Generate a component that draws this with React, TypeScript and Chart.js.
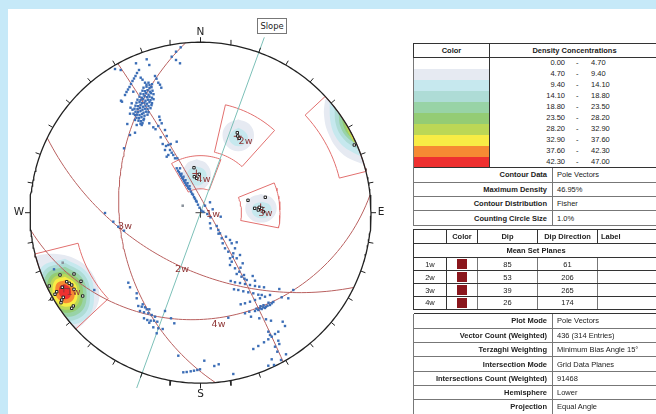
import React, { useEffect, useRef } from "react";
import { Chart, registerables } from "chart.js";

// Net units: 1 unit = 1/170.5 of the primitive circle radius; x = east, y = north.
const NET_R = 170.5;
const setNames = ["1w", "2w", "3w", "4w"];
const setDips = [85, 53, 39, 26];
const setDipDirs = [61, 206, 265, 174];
const slopeTrend = 20;
const tickAzimuths = [0, 10, 20, 30, 40, 50, 60, 70, 80, 90, 100, 110, 120, 130, 140, 150, 160, 170, 180, 190, 200, 210, 220, 230, 240, 250, 260, 270, 280, 290, 300, 310, 320, 330, 340, 350];

// [trend start, trend end, plunge min, plunge max]
const windows = [
  [227, 256, 0, 17],
  [47, 76, 0, 10],
  [13, 42, 24, 50],
  [68, 101, 40, 63],
  [329.5, 381, 53, 74],
];

const densityLow = ["0.00", "4.70", "9.40", "14.10", "18.80", "23.50", "28.20", "32.90", "37.60", "42.30"];
const densityHigh = ["4.70", "9.40", "14.10", "18.80", "23.50", "28.20", "32.90", "37.60", "42.30", "47.00"];
const densityColors = ["#ffffff", "#e6eaf2", "#c6e8ee", "#aedcd6", "#98d3a6", "#94cc74", "#bcd756", "#f8ec45", "#f68a33", "#ee3030"];
const contourRows = [["Contour Data", "Pole Vectors"], ["Maximum Density", "46.95%"], ["Contour Distribution", "Fisher"], ["Counting Circle Size", "1.0%"]];
const infoRows = [["Plot Mode", "Pole Vectors"], ["Vector Count (Weighted)", "436 (314 Entries)"], ["Terzaghi Weighting", "Minimum Bias Angle 15°"], ["Intersection Mode", "Grid Data Planes"], ["Intersections Count (Weighted)", "91468"], ["Hemisphere", "Lower"], ["Projection", "Equal Angle"]];

type P = number[];
const contourLeft: [number, P[]][] = [
  [1, [[-175, -55], [-164.8, -44], [-155.5, -41.6], [-143.8, -41.3], [-128.8, -44.6], [-113.8, -54], [-105.5, -65.6], [-101.2, -80.6], [-103.8, -94], [-112.2, -105.6], [-124.5, -116.6], [-150, -125], [-180, -90], [-175, -55]]],
  [2, [[-135.5, -46], [-113.8, -59.2], [-106.5, -79], [-112.3, -103.8], [-135.5, -112], [-157, -99], [-164.5, -79], [-158.7, -54.3], [-135.5, -46]]],
  [3, [[-135.5, -50], [-116.8, -61.6], [-110.5, -79], [-115.5, -100.8], [-135.5, -108], [-154, -96.4], [-160.5, -79], [-155.5, -57.2], [-135.5, -50]]],
  [4, [[-135.5, -54], [-119.4, -64], [-114, -79], [-118.3, -97.8], [-135.5, -104], [-151.6, -94], [-157, -79], [-152.7, -60.2], [-135.5, -54]]],
  [5, [[-135.5, -58], [-122, -66.4], [-117.5, -79], [-121.1, -94.8], [-135.5, -100], [-149, -91.6], [-153.5, -79], [-149.9, -63.2], [-135.5, -58]]],
  [6, [[-135.5, -61], [-124.3, -68.2], [-120.5, -79], [-123.5, -92.5], [-135.5, -97], [-146.8, -89.8], [-150.5, -79], [-147.5, -65.5], [-135.5, -61]]],
  [7, [[-135.5, -64], [-126, -70], [-123, -79], [-125.5, -90.3], [-135.5, -94], [-145, -88], [-148, -79], [-145.5, -67.8], [-135.5, -64]]],
  [8, [[-135.5, -67.5], [-128.2, -72.1], [-125.8, -79], [-127.7, -87.6], [-135.5, -90.5], [-142.8, -85.9], [-145.2, -79], [-143.3, -70.4], [-135.5, -67.5]]],
  [9, [[-135.5, -71.5], [-131, -74.5], [-129.5, -79], [-130.7, -84.6], [-135.5, -86.5], [-140, -83.5], [-141.5, -79], [-140.3, -73.4], [-135.5, -71.5]]],
];
const contourRight: [number, P[]][] = [
  [1, [[124.5, 113], [123.5, 97.7], [127.8, 79.4], [139.5, 61], [156.2, 51], [170, 49], [190, 70], [170, 120], [140, 125], [124.5, 113]]],
  [2, [[129, 112], [130.5, 88], [137.8, 72], [149.5, 62], [165, 57], [190, 70], [165, 125], [129, 112]]],
  [3, [[134, 108], [135.5, 88], [143, 74], [155, 65], [168, 60], [190, 70], [165, 120], [134, 108]]],
  [4, [[138, 100], [140, 86], [147, 75], [158, 68], [170, 63], [185, 75], [165, 115], [138, 100]]],
  [5, [[141, 96], [144, 84], [150, 76], [160, 70], [170, 66], [180, 80], [160, 110], [141, 96]]],
  [6, [[143, 93], [147, 82], [150, 76], [155, 70], [175, 75], [160, 100], [143, 93]]],
  [7, [[148, 85], [150.5, 79], [153, 74], [170, 78], [160, 95], [148, 85]]],
];
const contour2w: [number, P[]][] = [
  [1, [[37.8, 93.5], [49, 88.5], [53.5, 77.7], [49, 66.5], [37.8, 61.5], [26.5, 66.5], [22, 77.7], [26.5, 88.5], [37.8, 93.5]]],
  [2, [[38, 85], [44.5, 81], [47.5, 75], [44.5, 69], [38, 66.5], [31.5, 69], [28.5, 75], [31.5, 81], [38, 85]]],
];
const contour4w: [number, P[]][] = [
  [1, [[-3.8, 53.4], [6.3, 48.8], [10.5, 37.7], [6.3, 26.6], [-3.8, 22], [-13.9, 26.6], [-18.1, 37.7], [-13.9, 48.8], [-3.8, 53.4]]],
  [2, [[-3.8, 46.2], [3.3, 43.4], [6.2, 36.7], [3.3, 30], [-3.8, 27.2], [-10.9, 30], [-13.8, 36.7], [-10.9, 43.4], [-3.8, 46.2]]],
];
const contour3w: [number, P[]][] = [
  [1, [[60.5, 18.7], [71.6, 14.5], [76.2, 4.4], [71.6, -5.7], [60.5, -9.9], [49.4, -5.7], [44.8, 4.4], [49.4, 14.5], [60.5, 18.7]]],
  [2, [[61.2, 11], [68.3, 8.6], [71.2, 2.7], [68.3, -3.2], [61.2, -5.6], [54.1, -3.2], [51.2, 2.7], [54.1, 8.6], [61.2, 11]]],
];

const polesNorthDense: P[] = [
  [-57, 125], [-54, 126], [-51, 124.5], [-49, 125.5], [-58, 122], [-55.5, 121.5], [-53, 122.5], [-50.5, 121], [-48, 122], [-60, 119], [-57, 118.5], [-54.5, 119.5], [-52, 118], [-49.5, 119.5], [-47, 118.5],
  [-61, 116], [-58.5, 115], [-56, 116.5], [-53.5, 115.5], [-51, 116], [-48.5, 115], [-63, 113], [-60, 112.5], [-57.5, 113.5], [-55, 112], [-52.5, 113], [-50, 112.5], [-47, 113.5],
  [-64, 110], [-61, 110.5], [-58.5, 109.5], [-56, 110], [-53.5, 109], [-51, 110.5], [-48.5, 109.5], [-65, 107], [-62.5, 106.5], [-60, 107.5], [-57.5, 106], [-55, 107], [-52, 106.5], [-49, 107.5],
  [-66, 104], [-63, 103.5], [-60.5, 104.5], [-58, 103], [-55.5, 104], [-53, 103.5], [-50, 104.5], [-65, 101], [-62.5, 100.5], [-60, 101.5], [-57, 100], [-54.5, 101], [-52, 100.5],
  [-63.5, 98], [-61, 97.5], [-58.5, 98.5], [-56, 97], [-53, 98], [-64, 95], [-61.5, 94.5], [-59, 95.5], [-56.5, 94], [-62, 92], [-59.5, 91.5], [-57, 92.5], [-60, 89], [-58, 89.5],
  [-54, 128], [-52, 130], [-51, 127.5], [-48.5, 128.5], [-70, 105], [-68, 103], [-70.5, 99], [-67, 99],
];
const polesNorthStreak: P[] = [
  [-75.5, 117.7], [-74, 120.7], [-72.5, 123.2], [-71, 125.7], [-69.5, 128.7], [-68, 131.7], [-66.5, 134.2], [-65, 136.7], [-63.5, 139.7], [-61.5, 142.7], [-79.5, 112], [-78.5, 111],
];
const polesNorthScatter: P[] = [
  [-85.5, 143.7], [-79.8, 142.7], [-64.5, 149.4], [-53.8, 153.4], [-51.2, 147.7], [-28.8, 156], [-24.5, 161], [-19.8, 165.4], [-24.5, 152.7], [-20.5, 149.4], [-45.5, 136.7], [-44, 134], [-42.2, 130], [-40.5, 128], [-39.2, 125],
  [-59.8, 135], [-58, 133], [-55.5, 130], [-67.2, 121], [-68.8, 109.4], [-73.2, 88.7], [-65.5, 92.7], [-65.5, 97.7], [-63.8, 87.7], [-58.8, 87.7], [-65.5, 80], [-70.5, 77.7], [-76.5, 64.4], [-51.2, 89.4], [-47.2, 85.4], [-45, 83.5],
  [-41.2, 96], [-40.5, 92.7], [-42.2, 86.7], [-38.8, 89.4], [-35.5, 82.7], [-39.8, 75.4], [-33.8, 76.7], [-37.8, 68.7], [-34.5, 66.7], [-29.8, 68.7], [-23.8, 71], [-30.5, 62.7], [-33.8, 56], [-27.2, 57.7], [-25.5, 54.4], [-23.2, 54.4], [-20.5, 44.4],
  [-32.2, 67.7], [-35.5, 62.7], [-28.8, 60], [-32.2, 57.7],
];
const polesOnLine: P[] = [
  [-23.8, 44.4], [-22.5, 42], [-21.5, 40.5], [-20.5, 38.5], [-19.5, 37], [-18.5, 35], [-17.5, 33.5], [-16.5, 31.5], [-15.5, 30], [-14.5, 28], [-13.5, 27], [-12.5, 25], [-11.5, 24], [-10.5, 23.4], [-19, 39], [-17, 36], [-15, 32.5], [-13, 29.5], [-11, 26.5], [-9.5, 21], [-8.5, 19], [-7.5, 18], [-6.5, 15.5], [-5.5, 14], [-4.5, 12], [-3.8, 11], [-2.5, 8],
  [-1, 5], [1, 2], [2.8, 1],
];
const polesCentral: P[] = [
  [9.5, 10.4], [4.5, 7], [12.2, 3.4], [6.8, -1.3], [10, -4.6], [20.2, -4], [9.5, -10.6], [10.2, -15.6], [16.2, -13.3], [17.8, -17.3], [19.5, -20.6], [18, -21], [21.2, -25.6], [25.5, -24], [29.5, -27.3], [36.2, -29.6], [31.2, -30.6], [22.2, -30.6], [24.5, -35.6], [27.8, -39], [34.5, -35.6], [32.8, -40.6], [29.5, -45.6], [32.2, -44], [39.5, -42.3],
  [-95.5, -0.3], [-87.2, -9], [-82.2, -14], [-76.5, -18], [-146.5, -56.6], [-106.2, -77.3],
];
const polesSouthEast: P[] = [
  [31.2, -49], [29.5, -52.3], [36.2, -45.6], [42.2, -50.6], [34.5, -55.6], [38.8, -59], [43.5, -62.3], [36.2, -61.3], [46.2, -67.3], [52.2, -63.3], [54.5, -68], [30.2, -68.3], [40, -55], [41, -64], [44, -66],
  [34.5, -69.6], [39.5, -70.3], [44.5, -71.3], [49.5, -72.3], [54.5, -73.3], [58.8, -74], [63.5, -74.6], [33.5, -76.6], [37.8, -77.3], [42.8, -78.6], [47.8, -79.6], [52.8, -80.6], [57.8, -82], [61.2, -82.3],
  [40.2, -91.6], [44.5, -90.6], [49.5, -89], [54.5, -87.3], [59.5, -85.6], [64.5, -84], [69.5, -82.3], [54.5, -98.3], [57.8, -97.3], [61.2, -96.3], [64.5, -95.3], [56, -96], [59.5, -95.6], [62.8, -94.6], [65.5, -94], [71.2, -90.6], [72.8, -89.3], [69.5, -92.3], [67, -93], [68, -90], [60, -93.5], [63, -92.5],
  [78.8, -76.3], [81.2, -84.6], [87.8, -85.6], [92.8, -77.3], [44.5, -100.6], [48.8, -99], [50.5, -104], [58.8, -105.6], [27.8, -105], [65.5, -106.6], [70.5, -108], [82.2, -109], [84.5, -113.3],
  [52.8, -136.3], [57.8, -133.3], [63.5, -129.6], [67.8, -126.6], [71.2, -124], [74.5, -121.3], [77.8, -119], [67.8, -119], [69.5, -122.3], [77.8, -128], [78.8, -131.3], [74.5, -134], [76.8, -139], [85.5, -141.6], [71.2, -146.6], [80.5, -147.3], [67.8, -153], [73.5, -152.3],
];
const polesSouth: P[] = [
  [32.8, -161.3], [3.8, -148], [13.8, -153.3], [18.2, -151.6], [-22.2, -143], [-17.2, -159.6], [-13.8, -159.3], [-9.8, -158.6], [-6.5, -158], [-3.2, -157.3], [-0.5, -156.6],
  [-72.2, -70], [-70.5, -74.6], [-63.8, -80.6], [-63.8, -85.6], [-62.2, -93.3], [-58.8, -94], [-55.5, -94.6], [-57.8, -91.6], [-53.8, -96.6], [-51.2, -96.6], [-60.5, -98.3], [-56.5, -99.6], [-52.2, -100.6], [-48.8, -102.3], [-45.5, -104], [-56.5, -105.6], [-53.2, -107.3], [-49.8, -108], [-46.5, -108], [-43.2, -109], [-51.2, -110], [-35.5, -98.3], [-29.5, -105.6], [-26.2, -110.6], [-47.2, -114.6], [-42.2, -115.6], [-37.8, -116.3], [-43.8, -120.6],
];
const greyPoles: P[] = [[-17.8, 7], [-137.8, -50]];
const windowPoles: P[] = [
  [-140.5, -62.3], [-126.5, -61.3], [-119.5, -68.6], [-151.2, -73.3], [-133.8, -69], [-131.2, -70.6], [-128.8, -72.3], [-126.5, -76.6], [-143.8, -79], [-145.5, -81.6], [-138.2, -74.6], [-137.2, -84.6], [-138.8, -87.3], [-139.5, -90], [-117.8, -83.3], [-127.2, -93.3], [-128.8, -95.6], [-148.8, -86.3],
  [153.8, 67.7], [36.8, 80], [37.2, 76.7], [38.8, 74.4], [-6.5, 45], [-6.2, 36], [-1.2, 38.4], [-3.8, 34.4], [47.5, 12.4], [64.8, 15.4], [54.2, 4.4], [58.8, 5.4], [61.2, 4.4], [62.8, 1], [57.8, 2.7],
];

const setLabels: [string, number, number][] = [
  ["1w", -127, -80], ["2w", 45, 70.7], ["3w", 65, -1.3], ["4w", 3, 32.7],
  ["1w", 12.5, -2.3], ["2w", -18.5, -57.3], ["3w", -75.5, -14.3], ["4w", 18, -112.3],
];
const cardinals: [string, number, number][] = [["N", 0, 180], ["E", 180.5, 0], ["S", 0, -182], ["W", -181.5, 0]];

const rad = Math.PI / 180;
const planeCurve = (dip: number, dir: number) => {
  const out: { x: number; y: number }[] = [];
  const s = [Math.sin((dir - 90) * rad), Math.cos((dir - 90) * rad), 0];
  const d = [Math.sin(dir * rad) * Math.cos(dip * rad), Math.cos(dir * rad) * Math.cos(dip * rad), Math.sin(dip * rad)];
  for (let t = 0; t <= 180; t += 2) {
    const c = Math.cos(t * rad), n = Math.sin(t * rad);
    const v = [s[0] * c + d[0] * n, s[1] * c + d[1] * n, s[2] * c + d[2] * n];
    out.push({ x: (NET_R * v[0]) / (1 + v[2]), y: (NET_R * v[1]) / (1 + v[2]) });
  }
  return out;
};
const polar = (trend: number, r: number) => ({ x: r * Math.sin(trend * rad), y: r * Math.cos(trend * rad) });
const plungeR = (p: number) => NET_R * Math.tan(((90 - p) / 2) * rad);
const windowPath = (w: number[]) => {
  const [a, b, pMin, pMax] = w;
  const out: { x: number; y: number }[] = [];
  for (let t = a; t <= b; t += 2) out.push(polar(t, plungeR(pMin)));
  out.push(polar(b, plungeR(pMin)));
  for (let t = b; t >= a; t -= 2) out.push(polar(t, plungeR(pMax)));
  out.push(polar(a, plungeR(pMax)));
  out.push(polar(a, plungeR(pMin)));
  return out;
};
const xy = (a: P[]) => a.map(([x, y]) => ({ x, y }));

const netClip = {
  id: "netClip",
  beforeDatasetDraw(chart: any, args: any) {
    if (!args.meta._dataset.clipNet) return;
    const { x, y } = chart.scales;
    const ctx = chart.ctx;
    ctx.save();
    ctx.beginPath();
    ctx.arc(x.getPixelForValue(0), y.getPixelForValue(0), x.getPixelForValue(NET_R) - x.getPixelForValue(0), 0, Math.PI * 2);
    ctx.clip();
  },
  afterDatasetDraw(chart: any, args: any) {
    if (args.meta._dataset.clipNet) chart.ctx.restore();
  },
};
Chart.register(netClip);
Chart.register(...registerables);

const netText = {
  id: "netText",
  afterDatasetsDraw(chart: any) {
    const { x, y } = chart.scales;
    const ctx = chart.ctx;
    ctx.save();
    ctx.textAlign = "center";
    ctx.textBaseline = "middle";
    ctx.font = '9.5px "DejaVu Sans"';
    ctx.fillStyle = "#8f3636";
    for (const [t, a, b] of setLabels) ctx.fillText(t, x.getPixelForValue(a), y.getPixelForValue(b));
    ctx.font = '10.5px "DejaVu Sans"';
    ctx.fillStyle = "#222";
    for (const [t, a, b] of cardinals) ctx.fillText(t, x.getPixelForValue(a), y.getPixelForValue(b));
    ctx.restore();
  },
};

const cell: React.CSSProperties = { padding: 0, overflow: "hidden", whiteSpace: "nowrap" };
const dark = "1px solid #333";
const soft = "1px solid #777";
const font = '7.5px "Liberation Sans", Arial, sans-serif';
const tableStyle = (top: number, width = 246): React.CSSProperties => ({
  position: "absolute", left: 413, top, width, borderCollapse: "collapse", tableLayout: "fixed", font, color: "#222", background: "#fff",
});

function KeyValue({ rows, rowH }: { rows: string[][]; rowH: number }) {
  return (
    <>
      {rows.map((r) => (
        <tr key={r[0]} style={{ height: rowH }}>
          <td colSpan={2} style={{ ...cell, borderBottom: soft, borderRight: soft, borderLeft: soft, textAlign: "right", paddingRight: 5, fontWeight: 700 }}>{r[0]}</td>
          <td style={{ ...cell, borderBottom: soft, paddingLeft: 4 }}>{r[1]}</td>
        </tr>
      ))}
    </>
  );
}

export default function App() {
  const ref = useRef<HTMLCanvasElement>(null);
  useEffect(() => {
    document.body.style.margin = "0";
    document.body.style.overflow = "hidden";
    const datasets: any[] = [];
    let order = 1;
    const marks = (data: P[], color: string, radius: number, border?: string) =>
      datasets.push({ data: xy(data), showLine: false, pointStyle: "rect", pointRadius: radius, pointBackgroundColor: color, pointBorderColor: border || color, pointBorderWidth: border ? 1 : 0, order: order++ });
    const line = (data: any[], color: string, width: number) =>
      datasets.push({ data, showLine: true, pointRadius: 0, borderColor: color, borderWidth: width, fill: false, spanGaps: false, order: order++ });

    marks(windowPoles, "#ffffff", 1.7, "#222222");
    datasets.push({ data: setDips.map((d, i) => polar(setDipDirs[i] + 180, plungeR(90 - d))), showLine: false, pointStyle: "cross", pointRadius: 4, pointBorderColor: "#8f3636", pointBorderWidth: 1, order: order++ });
    for (const group of [polesNorthDense, polesNorthStreak, polesNorthScatter, polesOnLine, polesCentral, polesSouthEast, polesSouth]) marks(group, "#3b6db6", 1.7);
    marks(greyPoles, "#8b939c", 1.8);
    line([{ x: -5, y: 0 }, { x: 5, y: 0 }, { x: NaN, y: NaN }, { x: 0, y: -5 }, { x: 0, y: 5 }], "#444", 1);
    const slopeEnd = polar(slopeTrend, 186.6), slopeOpp = polar(slopeTrend + 180, 186.6);
    const netPts = [];
    for (let a = 0; a <= 360; a += 1) netPts.push(polar(a, NET_R));
    line(netPts, "#222", 1.3);
    const ticks: any[] = [];
    for (const a of tickAzimuths) ticks.push(polar(a, NET_R), polar(a, NET_R + 5), { x: NaN, y: NaN });
    line(ticks, "#222", 1);
    setDips.forEach((d, i) => line(planeCurve(d, setDipDirs[i]), "#b9605f", 1));
    line([slopeEnd, slopeOpp], "#7cc0b8", 1);
    windows.forEach((w) => line(windowPath(w), "#e2706f", 1));
    const contours = [...contour2w, ...contour3w, ...contour4w, ...contourRight, ...contourLeft];
    const sorted = contours.slice().sort((a, b) => b[0] - a[0]);
    for (const [level, poly] of sorted) {
      datasets.push({ data: xy(poly), showLine: true, pointRadius: 0, borderWidth: 0, borderColor: "transparent", backgroundColor: densityColors[level], fill: "shape", tension: 0.4, clipNet: true, order: order++ });
    }

    const chart = new Chart(ref.current!, {
      type: "scatter",
      data: { datasets },
      plugins: [netText],
      options: {
        animation: false,
        responsive: false,
        events: [],
        layout: { padding: 0, autoPadding: false },
        plugins: { legend: { display: false }, tooltip: { enabled: false } },
        scales: {
          x: { type: "linear", display: false, min: -200.5, max: 455.5 },
          y: { type: "linear", display: false, min: -201.3, max: 212.7 },
        },
      },
    } as any);
    return () => chart.destroy();
  }, []);

  return (
    <div style={{ position: "relative", width: 656, height: 414, overflow: "hidden", background: "#c6e9f8", filter: "blur(0.4px)" }}>
      <div style={{ position: "absolute", left: 8, top: 9, width: 648, height: 405, background: "#fff" }} />
      <canvas ref={ref} width={656} height={414} style={{ position: "absolute", left: 0, top: 0, width: 656, height: 414 }} />
      <div style={{ position: "absolute", left: 257, top: 18, width: 28, height: 14, border: "1px solid #777", background: "#fff", font: '8.4px "DejaVu Sans"', color: "#222", textAlign: "center", lineHeight: "14px" }}>Slope</div>

      <table style={tableStyle(43)}>
        <colgroup><col style={{ width: 76 }} /><col style={{ width: 63 }} /><col /></colgroup>
        <tbody>
          <tr style={{ height: 14 }}>
            <td style={{ ...cell, border: dark, textAlign: "center", fontWeight: 700 }}>Color</td>
            <td colSpan={2} style={{ ...cell, borderTop: dark, borderBottom: dark, textAlign: "center", fontWeight: 700 }}>Density Concentrations</td>
          </tr>
          {densityLow.map((low, i) => (
            <tr key={low} style={{ height: 11 }}>
              <td style={{ ...cell, background: densityColors[i], borderRight: dark, borderLeft: soft }} />
              <td colSpan={2} style={{ ...cell, position: "relative" }}>
                <div style={{ position: "relative", height: 10, lineHeight: "10px" }}>
                  <span style={{ position: "absolute", right: 94, top: 0 }}>{low}</span>
                  <span style={{ position: "absolute", left: 86, top: 0 }}>-</span>
                  <span style={{ position: "absolute", left: 101, top: 0 }}>{densityHigh[i]}</span>
                </div>
              </td>
            </tr>
          ))}
          <tr style={{ height: 0 }}><td colSpan={3} style={{ borderTop: dark, padding: 0 }} /></tr>
          <KeyValue rows={contourRows} rowH={14.3} />
        </tbody>
      </table>

      <table style={tableStyle(229)}>
        <colgroup><col style={{ width: 33 }} /><col style={{ width: 31 }} /><col style={{ width: 60 }} /><col style={{ width: 60 }} /><col /></colgroup>
        <tbody>
          <tr style={{ height: 14 }}>
            {["", "Color", "Dip", "Dip Direction", "Label"].map((h, i) => (
              <td key={i} style={{ ...cell, border: dark, textAlign: i === 4 ? "left" : "center", paddingLeft: i === 4 ? 3 : 0, fontWeight: 700 }}>{h}</td>
            ))}
          </tr>
          <tr style={{ height: 14.3 }}><td colSpan={5} style={{ ...cell, border: dark, textAlign: "center", fontWeight: 700 }}>Mean Set Planes</td></tr>
          {setNames.map((n, i) => (
            <tr key={n} style={{ height: 12.9 }}>
              <td style={{ ...cell, border: dark, textAlign: "center" }}>{n}</td>
              <td style={{ ...cell, border: soft, borderBottom: dark }}><div style={{ width: 10, height: 10, margin: "0 auto", background: "#8a161c" }} /></td>
              <td style={{ ...cell, border: soft, borderBottom: dark, textAlign: "center" }}>{setDips[i]}</td>
              <td style={{ ...cell, border: soft, borderBottom: dark, textAlign: "center" }}>{setDipDirs[i]}</td>
              <td style={{ ...cell, borderBottom: dark }} />
            </tr>
          ))}
        </tbody>
      </table>

      <table style={tableStyle(313)}>
        <colgroup><col style={{ width: 76 }} /><col style={{ width: 63 }} /><col /></colgroup>
        <tbody>
          <tr style={{ height: 0 }}><td colSpan={3} style={{ borderTop: dark, padding: 0 }} /></tr>
          <KeyValue rows={infoRows} rowH={14.3} />
        </tbody>
      </table>
    </div>
  );
}
